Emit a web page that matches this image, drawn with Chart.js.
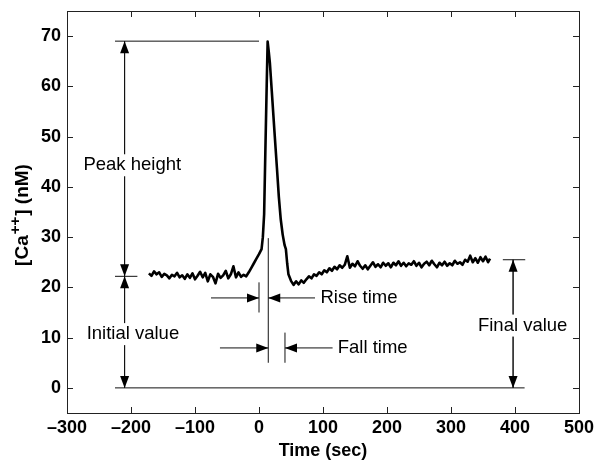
<!DOCTYPE html>
<html>
<head>
<meta charset="utf-8">
<script src="https://cdn.jsdelivr.net/npm/chart.js@4.4.1/dist/chart.umd.min.js"></script>
<style>
  html, body { margin: 0; padding: 0; background: #fff; }
  #chart { display: block; }
</style>
</head>
<body>
<canvas id="chart" width="596" height="460"></canvas>
<script>
// calcium trace
const timeSec = [
  -172, -168, -164, -160, -156, -152, -148, -144, -140, -136, -132, -128, -124,
  -120, -116, -112, -108, -104, -100, -96, -92, -88, -84, -80, -76, -72, -68,
  -64, -60, -56, -52, -48, -44, -40, -36, -32, -28, -24, -20,
  -16, -12, -8, -4, 0, 4, 6, 8, 10, 12, 13.5, 15, 17, 20, 24, 28, 31, 34, 37,
  40, 42, 44, 46, 50, 54, 58, 62, 66, 70,
  74, 78, 82, 86, 90, 94, 98, 102, 106, 110, 114, 118, 122, 126, 130, 134, 138,
  142, 146, 150, 154, 158, 162, 166, 170, 174, 178, 182, 186, 190, 194, 198,
  202, 206, 210, 214, 218, 222, 226, 230, 234, 238, 242, 246, 250, 254, 258,
  262, 266, 270, 274, 278, 282, 286, 290, 294, 298, 302, 306, 310, 314, 318,
  322, 326, 330, 334, 338, 342, 346, 350, 354, 358, 361
];
const calcium = [
  22.8, 22.3, 23.2, 22.6, 23.0, 22.1, 22.7, 22.4, 21.8, 22.5, 22.2, 22.9, 22.0,
  22.4, 21.7, 22.6, 21.9, 22.8, 21.6, 22.3, 23.1, 22.0, 22.9, 21.2, 22.6, 22.1, 20.8,
  22.7, 21.9, 22.4, 23.3, 21.8, 22.6, 24.2, 22.0, 23.0, 22.1, 22.5, 22.2,
  23.0, 23.9, 24.8, 25.7, 26.6, 27.6, 30.0, 34.5, 47.5, 60.0, 68.9, 67.2, 64.7, 59.0, 51.3, 43.8, 38.0, 33.5, 30.5,
  28.4, 27.6, 24.8, 22.6, 21.3, 20.5, 21.2, 20.6, 21.4, 20.9,
  21.6, 22.2, 21.8, 22.6, 22.3, 23.0, 22.6, 23.4, 23.0, 23.8, 23.3, 24.1, 23.6, 24.4, 23.9, 24.5, 26.2,
  23.9, 24.7, 24.2, 25.2, 24.3, 23.7, 24.4, 23.6, 24.3, 25.0, 24.1, 24.6, 24.0, 24.9, 24.3,
  24.8, 24.0, 24.9, 24.4, 25.2, 24.3, 24.9, 24.2, 24.8, 24.5, 25.2, 24.3, 24.9, 24.0, 24.7,
  25.1, 24.4, 25.3, 24.6, 24.0, 24.9, 24.4, 25.1, 24.3, 24.8, 24.4, 25.3, 24.7, 25.0, 24.5,
  25.5, 25.1, 26.3, 25.0, 25.8, 24.9, 26.0, 25.2, 26.1, 25.0, 25.7
];

const xTicks = [-300, -200, -100, 0, 100, 200, 300, 400, 500];
const yTicks = [0, 10, 20, 30, 40, 50, 60, 70];

// annotation geometry in data units: [x1, y1, x2, y2]
const guideLines = [
  [-225, 69, 0, 69],
  [-225, 22.2, -190, 22.2],
  [-225, 0, 415, 0],
  [381, 25.5, 416, 25.5],
  [-210, 0, -210, 69],
  [397, 0, 397, 25.5],
  [0, 15, 0, 21],
  [14.5, 5, 14.5, 29.8],
  [40.6, 5, 40.6, 11]
];
// [tailX, tailY, tipX, tipY]
const arrows = [
  [-210, 40, -210, 69],
  [-210, 40, -210, 22.2],
  [-210, 10, -210, 22.2],
  [-210, 10, -210, 0],
  [397, 12, 397, 25.5],
  [397, 12, 397, 0],
  [-75, 17.9, 0, 17.9],
  [87.5, 17.9, 14.5, 17.9],
  [-61, 7.95, 14.5, 7.95],
  [115, 7.95, 40.6, 7.95]
];
// [text, x, y, align]
const labels = [
  ["Peak height", -198, 44.3, "center"],
  ["Initial value", -197, 10.7, "center"],
  ["Rise time", 96, 17.9, "left"],
  ["Fall time", 123, 7.95, "left"],
  ["Final value", 412, 12.4, "center"]
];

const FONT = '"Liberation Sans", Arial, Helvetica, sans-serif';

const boxPlugin = {
  id: "matlabBox",
  afterDraw(chart) {
    const { ctx, chartArea: a } = chart;
    const xs = chart.scales.x, ys = chart.scales.y;
    ctx.save();
    ctx.strokeStyle = "#222";
    ctx.lineWidth = 1;
    ctx.strokeRect(Math.round(a.left) + 0.5, Math.round(a.top) + 0.5,
      Math.round(a.right - a.left), Math.round(a.bottom - a.top));
    ctx.beginPath();
    xTicks.forEach((v) => {
      const px = Math.round(xs.getPixelForValue(v)) + 0.5;
      ctx.moveTo(px, a.bottom); ctx.lineTo(px, a.bottom - 6);
      ctx.moveTo(px, a.top); ctx.lineTo(px, a.top + 6);
    });
    yTicks.forEach((v) => {
      const py = Math.round(ys.getPixelForValue(v)) + 0.5;
      ctx.moveTo(a.left, py); ctx.lineTo(a.left + 6, py);
      ctx.moveTo(a.right, py); ctx.lineTo(a.right - 6, py);
    });
    ctx.stroke();

    // y axis title with superscript
    const cx = 22, cy = 215;
    const big = "bold 19px " + FONT, small = "bold 15px " + FONT;
    ctx.font = big;
    const w1 = ctx.measureText("[Ca").width;
    const w3 = ctx.measureText("] (nM)").width;
    ctx.font = small;
    const w2 = ctx.measureText("++").width + 2;
    const total = w1 + w2 + w3;
    ctx.translate(cx, cy);
    ctx.rotate(-Math.PI / 2);
    ctx.fillStyle = "#000";
    ctx.textBaseline = "middle";
    ctx.textAlign = "left";
    let x = -total / 2;
    ctx.font = big;
    ctx.fillText("[Ca", x, 1);
    x += w1;
    ctx.font = small;
    ctx.fillText("++", x + 1, -6);
    x += w2;
    ctx.font = big;
    ctx.fillText("] (nM)", x, 1);
    ctx.restore();
  }
};

const annotationPlugin = {
  id: "annotations",
  afterDatasetsDraw(chart) {
    const { ctx } = chart;
    const xs = chart.scales.x, ys = chart.scales.y;
    const px = (v) => xs.getPixelForValue(v);
    const py = (v) => ys.getPixelForValue(v);
    ctx.save();
    ctx.strokeStyle = "#111";
    ctx.fillStyle = "#000";
    ctx.lineWidth = 1;
    ctx.beginPath();
    guideLines.forEach(([x1, y1, x2, y2]) => {
      ctx.moveTo(px(x1), py(y1));
      ctx.lineTo(px(x2), py(y2));
    });
    arrows.forEach(([x1, y1, x2, y2]) => {
      ctx.moveTo(px(x1), py(y1));
      ctx.lineTo(px(x2), py(y2));
    });
    ctx.stroke();

    arrows.forEach(([x1, y1, x2, y2]) => {
      const tx = px(x2), ty = py(y2);
      const ang = Math.atan2(ty - py(y1), tx - px(x1));
      const len = 12, half = 4.5;
      const bx = tx - len * Math.cos(ang), by = ty - len * Math.sin(ang);
      const nx = -Math.sin(ang) * half, ny = Math.cos(ang) * half;
      ctx.beginPath();
      ctx.moveTo(tx, ty);
      ctx.lineTo(bx + nx, by + ny);
      ctx.lineTo(bx - nx, by - ny);
      ctx.closePath();
      ctx.fill();
    });

    ctx.font = "18.5px " + FONT;
    ctx.textBaseline = "middle";
    labels.forEach(([text, x, y, align]) => {
      const w = ctx.measureText(text).width;
      let left = px(x);
      if (align === "center") left -= w / 2;
      ctx.fillStyle = "#fff";
      ctx.fillRect(left - 2, py(y) - 11, w + 4, 22);
      ctx.fillStyle = "#000";
      ctx.textAlign = "left";
      ctx.fillText(text, left, py(y));
    });
    ctx.restore();
  }
};

new Chart(document.getElementById("chart"), {
  type: "scatter",
  data: {
    datasets: [{
      data: timeSec.map((t, i) => ({ x: t, y: calcium[i] })),
      showLine: true,
      borderColor: "#000",
      borderWidth: 2.6,
      pointRadius: 0,
      tension: 0,
      borderJoinStyle: "round"
    }]
  },
  options: {
    responsive: false,
    animation: false,
    events: [],
    layout: { padding: { top: 11, right: 17, left: 0, bottom: 0 } },
    plugins: { legend: { display: false }, tooltip: { enabled: false } },
    scales: {
      x: {
        type: "linear",
        min: -300,
        max: 500,
        afterBuildTicks: (s) => { s.ticks = xTicks.map((v) => ({ value: v })); },
        afterFit: (s) => { s.height = 47; s.paddingLeft = 0; s.paddingRight = 0; },
        grid: { display: false, drawTicks: false },
        border: { display: false },
        ticks: {
          padding: 4,
          color: "#000",
          font: { family: FONT, size: 18, weight: "bold" },
          maxRotation: 0,
          callback: (v) => (v < 0 ? "\u2013" + Math.abs(v) : String(v))
        },
        title: {
          display: true,
          text: "Time (sec)",
          color: "#000",
          font: { family: FONT, size: 18, weight: "bold" },
          padding: { top: 0, bottom: -2 }
        }
      },
      y: {
        type: "linear",
        min: -5,
        max: 75,
        afterBuildTicks: (s) => { s.ticks = yTicks.map((v) => ({ value: v })); },
        afterFit: (s) => { s.width = 67; s.paddingTop = 0; s.paddingBottom = 0; },
        grid: { display: false, drawTicks: false },
        border: { display: false },
        ticks: {
          padding: 6,
          color: "#000",
          font: { family: FONT, size: 18, weight: "bold" }
        }
      }
    }
  },
  plugins: [annotationPlugin, boxPlugin]
});
</script>
</body>
</html>
